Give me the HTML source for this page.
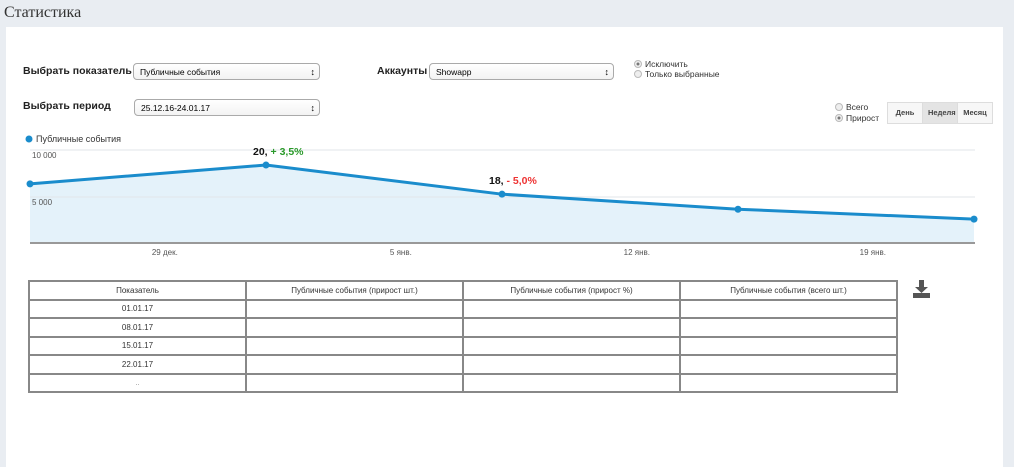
<!DOCTYPE html>
<html><head><meta charset="utf-8"><style>
body{margin:0;width:1014px;height:463px;background:#e9edf2;font-family:"Liberation Sans","Noto Sans CJK SC",sans-serif;position:relative;overflow:hidden}
.a{position:absolute}
.title{left:4px;top:4px;font-family:"Liberation Serif",serif;font-size:16px;color:#333}
.card{left:6px;top:27px;width:997px;height:440px;background:#fff}
.lbl{font-size:10.5px;font-weight:bold;color:#222}
.sel{border:1px solid #aaa;border-radius:4px;height:17px;font-size:8.5px;line-height:16px;padding-left:6px;box-sizing:border-box;background:linear-gradient(#fff,#f3f3f3)}
.sel:after{content:"\2195";position:absolute;right:4px;top:0;font-size:9px}
.rad{font-size:8.5px;color:#333}
.rad i{display:inline-block;width:6px;height:6px;border:1px solid #bbb;border-radius:50%;margin-right:3px;vertical-align:-1px;background:#eee}
.rad i.on{background:radial-gradient(#777 30%,#eee 40%)}
.btns{left:887px;top:102px;height:20px;display:flex;border:1px solid #ddd}
.btns div{font-size:7.5px;font-weight:bold;color:#444;padding:0 5px;line-height:20px;background:#f7f7f7;border-right:1px solid #ddd;width:24px;text-align:center}
table{border-collapse:collapse;position:absolute;left:28px;top:280px;width:870px}
td{border:2px solid #888;height:16.5px;font-size:8px;color:#333;text-align:center;vertical-align:middle;padding:0;width:25%}
</style></head><body>
<div class="a title">Статистика</div>
<div class="a card"></div>
<div class="a lbl" style="left:23px;top:65px">Выбрать показатель</div>
<div class="a sel" style="left:133px;top:63px;width:187px">Публичные события</div>
<div class="a lbl" style="left:377px;top:65px">Аккаунты</div>
<div class="a sel" style="left:429px;top:63px;width:185px">Showapp</div>
<div class="a rad" style="left:634px;top:59px"><i class="on"></i>Исключить</div>
<div class="a rad" style="left:634px;top:69px"><i></i>Только выбранные</div>
<div class="a lbl" style="left:23px;top:100px">Выбрать период</div>
<div class="a sel" style="left:134px;top:99px;width:186px">25.12.16-24.01.17</div>
<div class="a rad" style="left:835px;top:102px"><i></i>Всего</div>
<div class="a rad" style="left:835px;top:113px"><i class="on"></i>Прирост</div>
<div class="a btns">
<div>День</div>
<div style="background:#e4e4e4">Неделя</div>
<div style="border-right:0">Месяц</div></div>
<svg class="a" style="left:0;top:0" width="1014" height="270" id="chart"></svg>
<table>
<tr><td>Показатель</td><td>Публичные события (прирост шт.)</td><td>Публичные события (прирост %)</td><td>Публичные события (всего шт.)</td></tr>
<tr><td>01.01.17</td><td></td><td></td><td></td></tr>
<tr><td>08.01.17</td><td></td><td></td><td></td></tr>
<tr><td>15.01.17</td><td></td><td></td><td></td></tr>
<tr><td>22.01.17</td><td></td><td></td><td></td></tr>
<tr><td style="color:#999">..</td><td></td><td></td><td></td></tr>
</table>
<svg class="a" style="left:911px;top:280px" width="22" height="20"><path d="M8 0h5v7h4l-6.5 6L4 7h4z" fill="#555"/><rect x="2" y="13" width="17" height="5" fill="#555"/></svg>
<script>
const dates=[-7,0,7,14,21]; // days relative to 1 Jan
const values=[6400,8400,5300,3700,2650];
const yTicks=[5000,10000];
const yTickLabels=["5 000","10 000"];
const xTicks=[-3,4,11,18];
const xTickLabels=["29 дек.","5 янв.","12 янв.","19 янв."];
const ann=[{i:1,n:"20, ",p:"+ 3,5%",c:"#2a9a2a"},{i:2,n:"18, ",p:"- 5,0%",c:"#e33"}];
const svg=document.getElementById('chart');const NS='http://www.w3.org/2000/svg';
const x=d=>266+(d)*(236/7);
const y=v=>244-v*47/5000;
function mk(t,a){const e=document.createElementNS(NS,t);for(const k in a)e.setAttribute(k,a[k]);svg.appendChild(e);return e;}
let e=mk('circle',{cx:29,cy:139,r:3.5,fill:'#1a8ccc'});

e=mk('text',{x:36,y:142,'font-size':9,fill:'#333'});e.textContent='Публичные события';

const pts=dates.map((d,i)=>[x(d),y(values[i])]);
e=mk('path',{d:'M'+pts.map(p=>p.join(',')).join('L')+`L${pts[pts.length-1][0]},243L${pts[0][0]},243Z`,fill:'#e4f2fa'});

yTicks.forEach((v,i)=>{const g=mk('line',{x1:30,x2:975,y1:y(v),y2:y(v),stroke:'#e2e6ea'});

const t=mk('text',{x:32,y:y(v)+8,'font-size':8,fill:'#555'});t.textContent=yTickLabels[i];
});
e=mk('line',{x1:30,x2:975,y1:243,y2:243,stroke:'#999','stroke-width':2});

e=mk('polyline',{points:pts.map(p=>p.join(',')).join(' '),fill:'none',stroke:'#1a8ccc','stroke-width':3});

pts.forEach(p=>{const c=mk('circle',{cx:p[0],cy:p[1],r:3.5,fill:'#1a8ccc'});
});
xTicks.forEach((d,i)=>{const t=mk('text',{x:x(d),y:255,'font-size':8,fill:'#555','text-anchor':'middle'});t.textContent=xTickLabels[i];
});
ann.forEach(a=>{const t=mk('text',{x:pts[a.i][0]-13,y:pts[a.i][1]-10,'font-size':10.5,'font-weight':'bold',fill:'#111'});

t.innerHTML=a.n+'<tspan fill="'+a.c+'">'+a.p+'</tspan>';});
</script>
</body></html>
